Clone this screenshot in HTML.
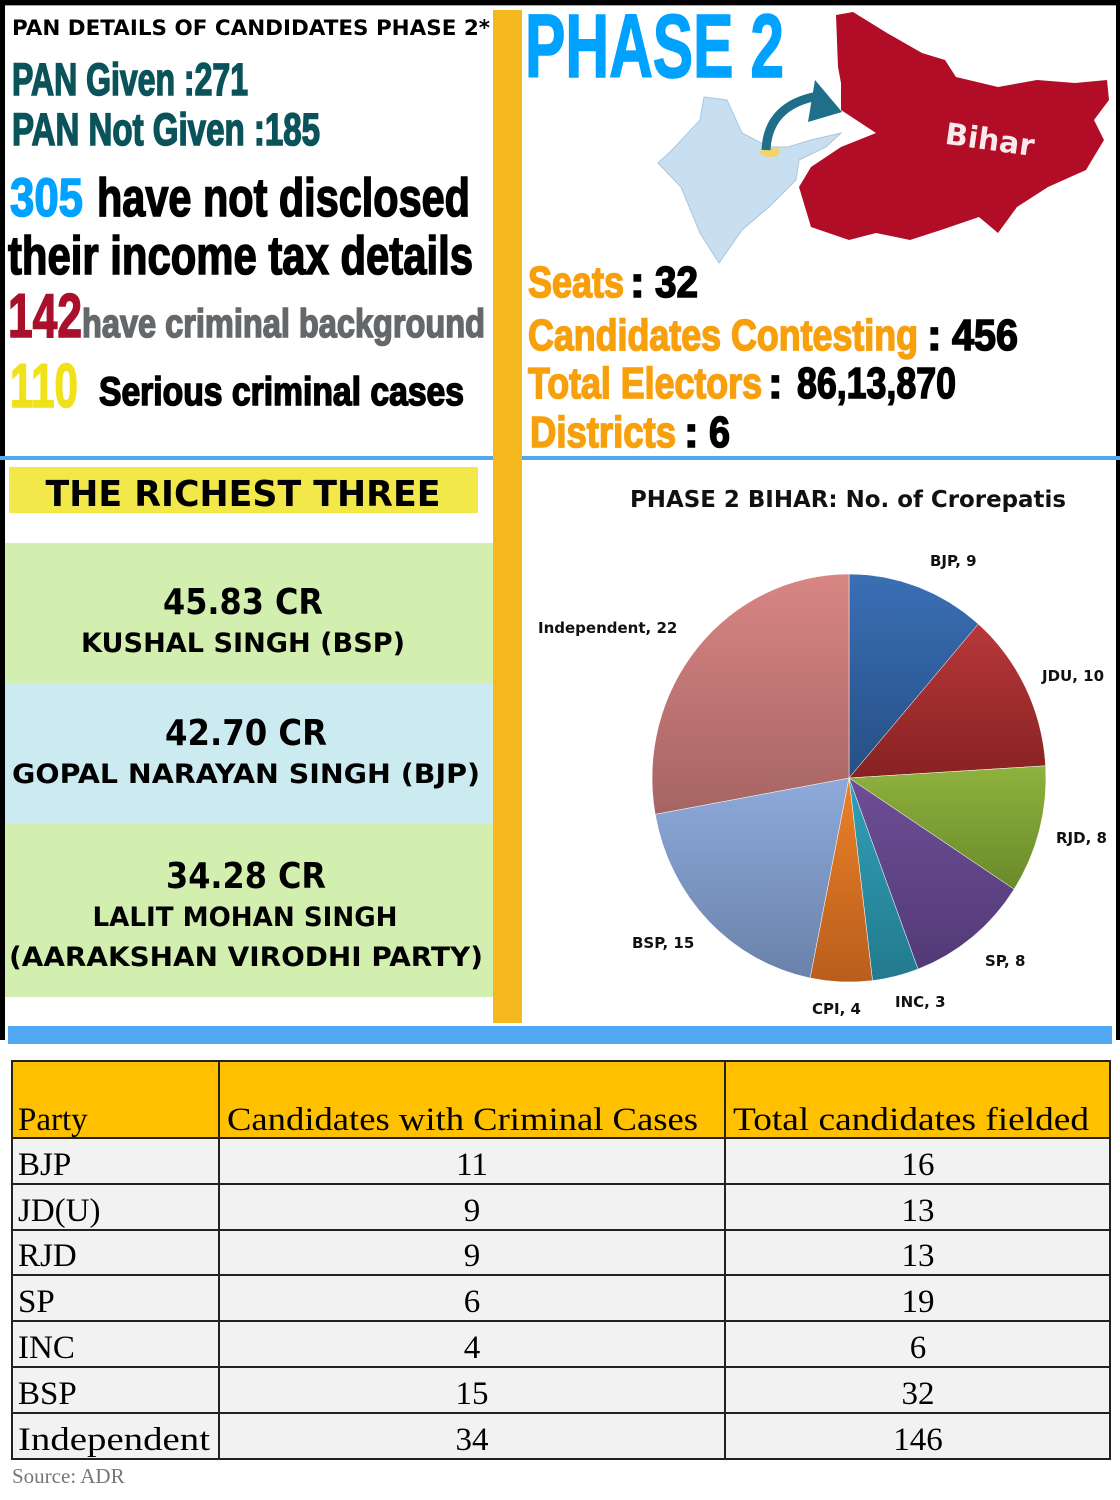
<!DOCTYPE html>
<html><head><meta charset="utf-8"><style>
html,body{margin:0;padding:0;background:#fff}
svg{display:block}
.imp{font-family:"Liberation Sans Narrow","Liberation Sans",sans-serif;font-weight:bold;stroke-width:1.6;paint-order:stroke}
.sb{font-family:"DejaVu Sans","Liberation Sans",sans-serif;font-weight:bold}
.sr{font-family:"Liberation Serif",serif}
</style></head><body>
<svg width="1120" height="1500" viewBox="0 0 1120 1500" xmlns="http://www.w3.org/2000/svg">
<defs>
<linearGradient id="gb" x1="0" y1="0" x2="0" y2="1"><stop offset="0" stop-color="#3a6fb5"/><stop offset="1" stop-color="#264f85"/></linearGradient>
<linearGradient id="gj" x1="0" y1="0" x2="0" y2="1"><stop offset="0" stop-color="#b8383a"/><stop offset="1" stop-color="#872222"/></linearGradient>
<linearGradient id="gr" x1="0" y1="0" x2="0" y2="1"><stop offset="0" stop-color="#8fb23e"/><stop offset="1" stop-color="#6a8a2a"/></linearGradient>
<linearGradient id="gs" x1="0" y1="0" x2="0" y2="1"><stop offset="0" stop-color="#6e4e96"/><stop offset="1" stop-color="#523a76"/></linearGradient>
<linearGradient id="gi" x1="0" y1="0" x2="0" y2="1"><stop offset="0" stop-color="#31a0b8"/><stop offset="1" stop-color="#237a8e"/></linearGradient>
<linearGradient id="gc" x1="0" y1="0" x2="0" y2="1"><stop offset="0" stop-color="#ec8128"/><stop offset="1" stop-color="#b85e1c"/></linearGradient>
<linearGradient id="gp" x1="0" y1="0" x2="0" y2="1"><stop offset="0" stop-color="#8eaadb"/><stop offset="1" stop-color="#6a82aa"/></linearGradient>
<linearGradient id="gn" x1="0" y1="0" x2="0" y2="1"><stop offset="0" stop-color="#d88684"/><stop offset="1" stop-color="#a56463"/></linearGradient>
</defs>
<rect x="0" y="0" width="1120" height="1500" fill="#fff"/>
<rect x="0" y="0" width="1120" height="5" fill="#000"/>
<rect x="0" y="0" width="5" height="1040" fill="#000"/>
<rect x="1116" y="0" width="4" height="1040" fill="#000"/>
<rect x="5" y="5" width="1111" height="1" fill="#9aa"/>
<rect x="493" y="10" width="29" height="1013" fill="#f5b81d"/>
<rect x="0" y="456" width="493" height="4" fill="#4fa8f0"/>
<rect x="522" y="456" width="598" height="4" fill="#4fa8f0"/>
<rect x="8" y="1026" width="1104" height="18" fill="#4fa8f0"/>

<text x="12" y="35" class="sb" font-size="21" textLength="478" lengthAdjust="spacingAndGlyphs" fill="#000">PAN DETAILS OF CANDIDATES PHASE 2*</text>
<text x="12" y="95" class="imp" font-size="45" textLength="236" lengthAdjust="spacingAndGlyphs" fill="#0b535a" stroke="#0b535a">PAN Given :271</text>
<text x="12" y="145" class="imp" font-size="45" textLength="308" lengthAdjust="spacingAndGlyphs" fill="#0b535a" stroke="#0b535a">PAN Not Given :185</text>
<text x="10" y="216" class="imp" font-size="54" textLength="73" lengthAdjust="spacingAndGlyphs" fill="#00a2ff" stroke="#00a2ff">305</text>
<text x="97" y="216" class="imp" font-size="54" textLength="373" lengthAdjust="spacingAndGlyphs" fill="#000" stroke="#000">have not disclosed</text>
<text x="8" y="274" class="imp" font-size="54" textLength="465" lengthAdjust="spacingAndGlyphs" fill="#000" stroke="#000">their income tax details</text>
<text x="8" y="337" class="imp" font-size="62" textLength="74" lengthAdjust="spacingAndGlyphs" fill="#a8102c" stroke="#a8102c">142</text>
<text x="82" y="337" class="imp" font-size="40" textLength="403" lengthAdjust="spacingAndGlyphs" fill="#65686b" stroke="#65686b">have criminal background</text>
<text x="10" y="407" class="imp" font-size="62" textLength="68" lengthAdjust="spacingAndGlyphs" fill="#f0e21a" stroke="#f0e21a">110</text>
<text x="99" y="405" class="imp" font-size="40" textLength="365" lengthAdjust="spacingAndGlyphs" fill="#000" stroke="#000">Serious criminal cases</text>

<text x="525" y="77" class="imp" font-size="90" textLength="259" lengthAdjust="spacingAndGlyphs" fill="#00a2ff" stroke="#00a2ff">PHASE 2</text>
<polygon fill="#b10d26" points="836,15 853,12 887,33 922,53 945,60 956,77 998,87 1037,80 1075,83 1107,80 1109,100 1094,120 1104,140 1086,170 1048,187 1017,207 998,233 979,217 941,230 910,240 876,233 849,240 811,227 799,187 811,167 841,147 876,133 841,110 841,83 838,67"/>
<text x="945" y="150" class="sb" font-size="30" fill="#fbe9ec" transform="rotate(8 990 140)">Bihar</text>
<polygon fill="#c8dff1" stroke="#a9c6de" stroke-width="1" points="704,97 727,100 742,133 769,147 788,147 811,140 841,133 826,147 799,160 796,180 769,207 742,230 719,263 700,233 681,187 658,163 672,150 700,120"/>
<ellipse cx="770" cy="152" rx="10" ry="5" fill="#f2d36a"/>
<path d="M766,150 Q768,105 818,96" fill="none" stroke="#1f6e8a" stroke-width="9"/>
<polygon fill="#1f6e8a" points="815,80 842,112 808,122"/>
<text x="528" y="297" class="imp" font-size="44" textLength="96" lengthAdjust="spacingAndGlyphs" fill="#f7a00c" stroke="#f7a00c">Seats</text>
<text x="630" y="297" class="imp" font-size="44" fill="#000" stroke="#000">:</text>
<text x="655" y="297" class="imp" font-size="44" textLength="43" lengthAdjust="spacingAndGlyphs" fill="#000" stroke="#000">32</text>
<text x="528" y="350" class="imp" font-size="44" textLength="390" lengthAdjust="spacingAndGlyphs" fill="#f7a00c" stroke="#f7a00c">Candidates Contesting</text>
<text x="927" y="350" class="imp" font-size="44" fill="#000" stroke="#000">:</text>
<text x="952" y="350" class="imp" font-size="44" textLength="66" lengthAdjust="spacingAndGlyphs" fill="#000" stroke="#000">456</text>
<text x="528" y="398" class="imp" font-size="44" textLength="234" lengthAdjust="spacingAndGlyphs" fill="#f7a00c" stroke="#f7a00c">Total Electors</text>
<text x="768" y="398" class="imp" font-size="44" fill="#000" stroke="#000">:</text>
<text x="797" y="398" class="imp" font-size="44" textLength="159" lengthAdjust="spacingAndGlyphs" fill="#000" stroke="#000">86,13,870</text>
<text x="530" y="447" class="imp" font-size="44" textLength="146" lengthAdjust="spacingAndGlyphs" fill="#f7a00c" stroke="#f7a00c">Districts</text>
<text x="684" y="447" class="imp" font-size="44" fill="#000" stroke="#000">:</text>
<text x="709" y="447" class="imp" font-size="44" textLength="21" lengthAdjust="spacingAndGlyphs" fill="#000" stroke="#000">6</text>

<rect x="9" y="467" width="469" height="46" fill="#f2e84a"/>
<text x="243" y="506" class="sb" font-size="36" text-anchor="middle" textLength="395" lengthAdjust="spacingAndGlyphs" fill="#000">THE RICHEST THREE</text>
<rect x="5" y="543" width="488" height="140" fill="#d3efb0"/>
<rect x="5" y="683" width="488" height="140" fill="#cbebf0"/>
<rect x="5" y="823" width="488" height="174" fill="#d3efb0"/>
<text x="243" y="614" class="sb" font-size="36" text-anchor="middle" textLength="160" lengthAdjust="spacingAndGlyphs" fill="#000">45.83 CR</text>
<text x="243" y="652" class="sb" font-size="27" text-anchor="middle" textLength="324" lengthAdjust="spacingAndGlyphs" fill="#000">KUSHAL SINGH (BSP)</text>
<text x="246" y="745" class="sb" font-size="36" text-anchor="middle" textLength="162" lengthAdjust="spacingAndGlyphs" fill="#000">42.70 CR</text>
<text x="246" y="783" class="sb" font-size="27" text-anchor="middle" textLength="468" lengthAdjust="spacingAndGlyphs" fill="#000">GOPAL NARAYAN SINGH (BJP)</text>
<text x="246" y="888" class="sb" font-size="36" text-anchor="middle" textLength="160" lengthAdjust="spacingAndGlyphs" fill="#000">34.28 CR</text>
<text x="245" y="926" class="sb" font-size="27" text-anchor="middle" textLength="305" lengthAdjust="spacingAndGlyphs" fill="#000">LALIT MOHAN SINGH</text>
<text x="246" y="966" class="sb" font-size="27" text-anchor="middle" textLength="474" lengthAdjust="spacingAndGlyphs" fill="#000">(AARAKSHAN VIRODHI PARTY)</text>

<text x="848" y="507" class="sb" font-size="23" text-anchor="middle" textLength="436" lengthAdjust="spacingAndGlyphs" fill="#111" font-weight="600">PHASE 2 BIHAR: No. of Crorepatis</text>
<g stroke="#fff" stroke-width="0.5">
<path d="M849,778 L849,574 A197,204 0 0 1 978.3,624.0 Z" fill="url(#gb)"/>
<path d="M849,778 L978.3,624.0 A197,204 0 0 1 1045.6,765.8 Z" fill="url(#gj)"/>
<path d="M849,778 L1045.6,765.8 A197,204 0 0 1 1014.1,889.2 Z" fill="url(#gr)"/>
<path d="M849,778 L1014.1,889.2 A197,204 0 0 1 918.0,969.1 Z" fill="url(#gs)"/>
<path d="M849,778 L918.0,969.1 A197,204 0 0 1 872.5,980.6 Z" fill="url(#gi)"/>
<path d="M849,778 L872.5,980.6 A197,204 0 0 1 810.1,978.0 Z" fill="url(#gc)"/>
<path d="M849,778 L810.1,978.0 A197,204 0 0 1 655.2,814.3 Z" fill="url(#gp)"/>
<path d="M849,778 L655.2,814.3 A197,204 0 0 1 849,574 Z" fill="url(#gn)"/>
</g>
<g class="sb" font-size="15" fill="#111">
<text x="930" y="566">BJP, 9</text>
<text x="1042" y="681">JDU, 10</text>
<text x="1056" y="843">RJD, 8</text>
<text x="985" y="966">SP, 8</text>
<text x="895" y="1007">INC, 3</text>
<text x="812" y="1014">CPI, 4</text>
<text x="632" y="948">BSP, 15</text>
<text x="538" y="633">Independent, 22</text>
</g>

<rect x="12" y="1061" width="1098" height="77" fill="#ffc000"/>
<rect x="12" y="1138" width="1098" height="321" fill="#f2f2f2"/>
<g stroke="#222" stroke-width="2" fill="none">
<rect x="12" y="1061" width="1098" height="398"/>
<line x1="12" y1="1138" x2="1110" y2="1138"/>
<line x1="12" y1="1184" x2="1110" y2="1184"/>
<line x1="12" y1="1230" x2="1110" y2="1230"/>
<line x1="12" y1="1275" x2="1110" y2="1275"/>
<line x1="12" y1="1321" x2="1110" y2="1321"/>
<line x1="12" y1="1367" x2="1110" y2="1367"/>
<line x1="12" y1="1413" x2="1110" y2="1413"/>
<line x1="219" y1="1061" x2="219" y2="1459"/>
<line x1="725" y1="1061" x2="725" y2="1459"/>
</g>
<g class="sr" font-size="33" fill="#000">
<text x="18" y="1130">Party</text>
<text x="227" y="1130" textLength="471" lengthAdjust="spacingAndGlyphs">Candidates with Criminal Cases</text>
<text x="733" y="1130" textLength="356" lengthAdjust="spacingAndGlyphs">Total candidates fielded</text>
<text x="18" y="1175">BJP</text><text x="472" y="1175" text-anchor="middle">11</text><text x="918" y="1175" text-anchor="middle">16</text>
<text x="18" y="1221">JD(U)</text><text x="472" y="1221" text-anchor="middle">9</text><text x="918" y="1221" text-anchor="middle">13</text>
<text x="18" y="1266">RJD</text><text x="472" y="1266" text-anchor="middle">9</text><text x="918" y="1266" text-anchor="middle">13</text>
<text x="18" y="1312">SP</text><text x="472" y="1312" text-anchor="middle">6</text><text x="918" y="1312" text-anchor="middle">19</text>
<text x="18" y="1358">INC</text><text x="472" y="1358" text-anchor="middle">4</text><text x="918" y="1358" text-anchor="middle">6</text>
<text x="18" y="1404">BSP</text><text x="472" y="1404" text-anchor="middle">15</text><text x="918" y="1404" text-anchor="middle">32</text>
<text x="18" y="1450" textLength="192" lengthAdjust="spacingAndGlyphs">Independent</text><text x="472" y="1450" text-anchor="middle">34</text><text x="918" y="1450" text-anchor="middle">146</text>
</g>
<text x="12" y="1483" class="sr" font-size="21" fill="#777">Source: ADR</text>
</svg>
</body></html>
